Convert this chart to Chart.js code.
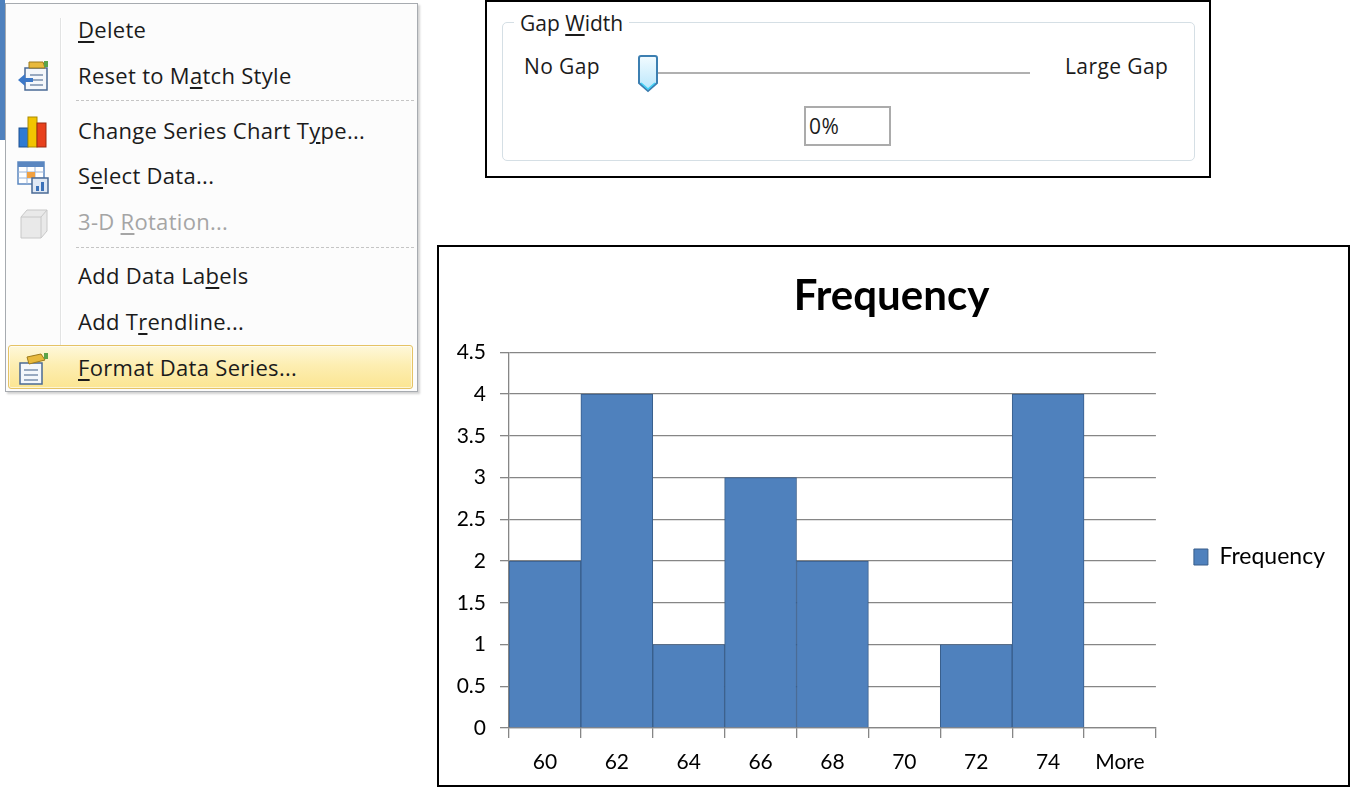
<!DOCTYPE html>
<html>
<head>
<meta charset="utf-8">
<script src="https://cdn.jsdelivr.net/npm/chart.js@4.4.1/dist/chart.umd.min.js"></script>
<style>
  html, body { margin: 0; padding: 0; background: #fff; }
  body { width: 1352px; height: 789px; position: relative; overflow: hidden; font-family: "Open Sans", sans-serif; }
  .abs { position: absolute; }
  #strip { left: 0; top: 0; width: 5px; height: 140px; background: #4f81bd; }
  #menu { left: 5px; top: 3px; width: 413px; height: 389px; box-sizing: border-box; border: 1px solid #a7abb0; background: #fcfcfc; box-shadow: 2px 2px 2px rgba(0,0,0,0.18); }
  #gutter { left: 54px; top: 14px; width: 1px; height: 365px; background: #e2e3e3; border-right: 1px solid #fff; }
  .sep { left: 70px; width: 338px; height: 0; border-top: 1px dashed #c5c5c5; }
  .item { left: 72px; height: 26px; line-height: 26px; font-size: 22px; letter-spacing: 0.3px; color: #1b1b1b; white-space: nowrap; }
  .item u { text-underline-offset: 3px; }
  .item.off { color: #a5a5a5; }
  .icon { left: 9px; width: 36px; height: 36px; }
  #hot { left: 2px; top: 341px; width: 405px; height: 44px; box-sizing: border-box; border: 1px solid #e5c365; border-radius: 3px;
         background: linear-gradient(to bottom, #fef8da 0%, #fdeeb2 45%, #fbe592 100%); box-shadow: inset 0 0 0 1px rgba(255,255,255,0.6); }
  #dlg { left: 485px; top: 0; width: 726px; height: 178px; box-sizing: border-box; border: 2px solid #000; background: #fff; }
  #grp { left: 15px; top: 20px; width: 693px; height: 139px; box-sizing: border-box; border: 1px solid #d5dfe5; border-radius: 5px; }
  .dtxt { font-size: 21px; letter-spacing: 0.4px; color: #1b1b1b; line-height: 26px; white-space: nowrap; }
  #gaplbl { left: 27px; top: 8px; background: #fff; padding: 0 6px; letter-spacing: 0; }
  #track { left: 170px; top: 70px; width: 373px; height: 2px; background: #b0b0b0; }
  #pct { left: 317px; top: 104px; width: 87px; height: 40px; box-sizing: border-box; border: 2px solid #ababab; }
  #chartbox { left: 437px; top: 245px; width: 913px; height: 542px; box-sizing: border-box; border: 2px solid #000; background: #fff; }
</style>
</head>
<body>
<div class="abs" id="strip"></div>

<div class="abs" id="menu">
  <div class="abs" id="gutter"></div>
  <div class="abs sep" style="top:96px"></div>
  <div class="abs sep" style="top:243px"></div>
  <div class="abs" id="hot"></div>

  <div class="abs item" style="top:12px"><u>D</u>elete</div>
  <div class="abs item" style="top:58px">Reset to M<u>a</u>tch Style</div>
  <div class="abs item" style="top:113px">Change Series Chart T<u>y</u>pe...</div>
  <div class="abs item" style="top:158px">S<u>e</u>lect Data...</div>
  <div class="abs item off" style="top:204px">3-D <u>R</u>otation...</div>
  <div class="abs item" style="top:258px">Add Data La<u>b</u>els</div>
  <div class="abs item" style="top:304px">Add T<u>r</u>endline...</div>
  <div class="abs item" style="top:350px"><u>F</u>ormat Data Series...</div>

  <!-- reset to match style -->
  <svg class="abs icon" style="top:54px" viewBox="0 0 36 36">
    <rect x="10" y="10" width="22" height="22" fill="#f4f7fb" stroke="#4a6a95" stroke-width="1.5"/>
    <line x1="15" y1="17" x2="28" y2="17" stroke="#7a8fad" stroke-width="1.5"/>
    <line x1="15" y1="22" x2="28" y2="22" stroke="#7a8fad" stroke-width="1.5"/>
    <line x1="15" y1="27" x2="28" y2="27" stroke="#7a8fad" stroke-width="1.5"/>
    <path d="M14 4 L28 4 L30 10 L14 10 Z" fill="#e8b93c" stroke="#9c7a1c" stroke-width="1"/>
    <rect x="29" y="3" width="4" height="6" fill="#5aa34a"/>
    <path d="M3 22 L10 16 L10 20 L18 20 L18 24 L10 24 L10 28 Z" fill="#3c78c8"/>
  </svg>
  <!-- change chart type -->
  <svg class="abs icon" style="top:109px" viewBox="0 0 36 36">
    <rect x="4" y="15" width="9" height="19" fill="#2f7ad2" stroke="#1d4f8f" stroke-width="1"/>
    <rect x="13" y="4" width="9" height="30" fill="#f2c400" stroke="#a98a00" stroke-width="1"/>
    <rect x="22" y="10" width="9" height="24" fill="#e8401c" stroke="#9a2a10" stroke-width="1"/>
  </svg>
  <!-- select data -->
  <svg class="abs icon" style="top:155px" viewBox="0 0 36 36">
    <rect x="3" y="3" width="26" height="22" fill="#fff" stroke="#5a86c0" stroke-width="1.5"/>
    <rect x="3" y="3" width="26" height="5" fill="#5a86c0"/>
    <line x1="3" y1="13" x2="29" y2="13" stroke="#9ab3d6"/>
    <line x1="3" y1="19" x2="29" y2="19" stroke="#9ab3d6"/>
    <line x1="12" y1="8" x2="12" y2="25" stroke="#9ab3d6"/>
    <line x1="20" y1="8" x2="20" y2="25" stroke="#9ab3d6"/>
    <rect x="12" y="13" width="8" height="6" fill="#f0a040"/>
    <rect x="17" y="19" width="16" height="15" fill="#dfe8f4" stroke="#4a6a95" stroke-width="1.5"/>
    <rect x="21" y="27" width="3" height="5" fill="#3a70b8"/>
    <rect x="26" y="23" width="3" height="9" fill="#3a70b8"/>
  </svg>
  <!-- 3-D rotation (disabled) -->
  <svg class="abs icon" style="top:201px" viewBox="0 0 36 36">
    <path d="M6 12 L12 5 L32 5 L32 26 L26 33 L6 33 Z" fill="#e9e9e9" stroke="#c8c8c8" stroke-width="1"/>
    <path d="M6 12 L26 12 L32 5" fill="none" stroke="#c8c8c8" stroke-width="1"/>
    <line x1="26" y1="12" x2="26" y2="33" stroke="#c8c8c8" stroke-width="1"/>
  </svg>
  <!-- format data series -->
  <svg class="abs icon" style="top:347px" viewBox="0 0 36 36">
    <rect x="5" y="12" width="22" height="21" fill="#f4f7fb" stroke="#4a6a95" stroke-width="1.5"/>
    <line x1="9" y1="19" x2="23" y2="19" stroke="#7a8fad" stroke-width="1.5"/>
    <line x1="9" y1="24" x2="23" y2="24" stroke="#7a8fad" stroke-width="1.5"/>
    <line x1="9" y1="29" x2="23" y2="29" stroke="#7a8fad" stroke-width="1.5"/>
    <path d="M12 6 L26 3 L30 9 L14 13 Z" fill="#e8b93c" stroke="#9c7a1c" stroke-width="1"/>
    <rect x="29" y="2" width="4" height="6" fill="#5aa34a"/>
  </svg>
</div>

<div class="abs" id="dlg">
  <div class="abs" id="grp"></div>
  <div class="abs dtxt" id="gaplbl">Gap <u style="text-underline-offset:3px">W</u>idth</div>
  <div class="abs dtxt" style="left:37px; top:51px">No Gap</div>
  <div class="abs dtxt" style="left:578px; top:51px">Large Gap</div>
  <div class="abs" id="track"></div>
  <svg class="abs" style="left:150px; top:53px" width="22" height="38" viewBox="0 0 22 38">
    <defs><linearGradient id="th" x1="0" y1="0" x2="0" y2="1"><stop offset="0" stop-color="#f2fbff"/><stop offset="1" stop-color="#b8e6fb"/></linearGradient></defs>
    <path d="M2 3 Q2 1 4 1 L18 1 Q20 1 20 3 L20 28 L11 36 L2 28 Z" fill="url(#th)" stroke="#3c7fb1" stroke-width="2"/>
    <path d="M4 28 L11 34 L18 28" fill="none" stroke="#3fd0f5" stroke-width="1.5"/>
  </svg>
  <div class="abs" id="pct"></div>
  <div class="abs dtxt" style="left:322px; top:111px">0%</div>
</div>

<div class="abs" id="chartbox">
  <canvas id="freq" width="909" height="538"></canvas>
</div>

<script>
  // histogram bins (Excel "Frequency" output)
  const bins = ["60", "62", "64", "66", "68", "70", "72", "74", "More"];
  const counts = [2, 4, 1, 3, 2, 0, 1, 4, 0];
  const yTicks = ["0", "0.5", "1", "1.5", "2", "2.5", "3", "3.5", "4", "4.5"];

  const gridGray = "#868686";
  const font = "Lato, 'Open Sans', sans-serif";

  new Chart(document.getElementById("freq"), {
    type: "bar",
    data: {
      labels: bins,
      datasets: [{
        label: "Frequency",
        data: counts,
        backgroundColor: "#4f81bd",
        borderColor: "#385d8a",
        borderWidth: 1,
        barPercentage: 1,
        categoryPercentage: 1
      }]
    },
    options: {
      responsive: false,
      animation: false,
      layout: { padding: { top: 0, right: 13, bottom: 0, left: 9 } },
      plugins: {
        tooltip: { enabled: false },
        title: {
          display: true,
          text: "Frequency",
          color: "#000",
          font: { family: font, size: 42, weight: "bold", lineHeight: 1.2 },
          padding: { top: 24, bottom: 31 }
        },
        legend: {
          position: "right",
          // blank title only pushes the single entry down to mid-plot
          title: { display: true, text: " ", color: "#000", font: { size: 10, lineHeight: 1.2 }, padding: { top: 35, bottom: 35 } },
          labels: {
            color: "#000",
            font: { family: font, size: 23 },
            boxWidth: 14,
            boxHeight: 16,
            padding: 38,
            generateLabels: (chart) => [{
              text: "Frequency",
              fillStyle: "#4f81bd",
              strokeStyle: "#385d8a",
              fontColor: "#000",
              lineWidth: 1,
              datasetIndex: 0
            }]
          }
        }
      },
      scales: {
        x: {
          afterFit: (s) => { s.height = 57; },
          grid: { offset: true, drawOnChartArea: false, drawTicks: true, tickLength: 10, color: gridGray, lineWidth: 1.3 },
          border: { color: gridGray, width: 1.3 },
          ticks: { color: "#000", font: { family: font, size: 21 }, padding: 12, maxRotation: 0, autoSkip: false }
        },
        y: {
          min: 0,
          max: 4.5,
          afterFit: (s) => { s.width = 61; },
          grid: { color: gridGray, lineWidth: 1.3, drawTicks: true, tickLength: 9 },
          border: { color: gridGray, width: 1.3 },
          ticks: {
            stepSize: 0.5,
            color: "#000",
            padding: 14,
            font: { family: font, size: 21 },
            callback: (v, i) => yTicks[i]
          }
        }
      }
    }
  });
</script>
</body>
</html>
